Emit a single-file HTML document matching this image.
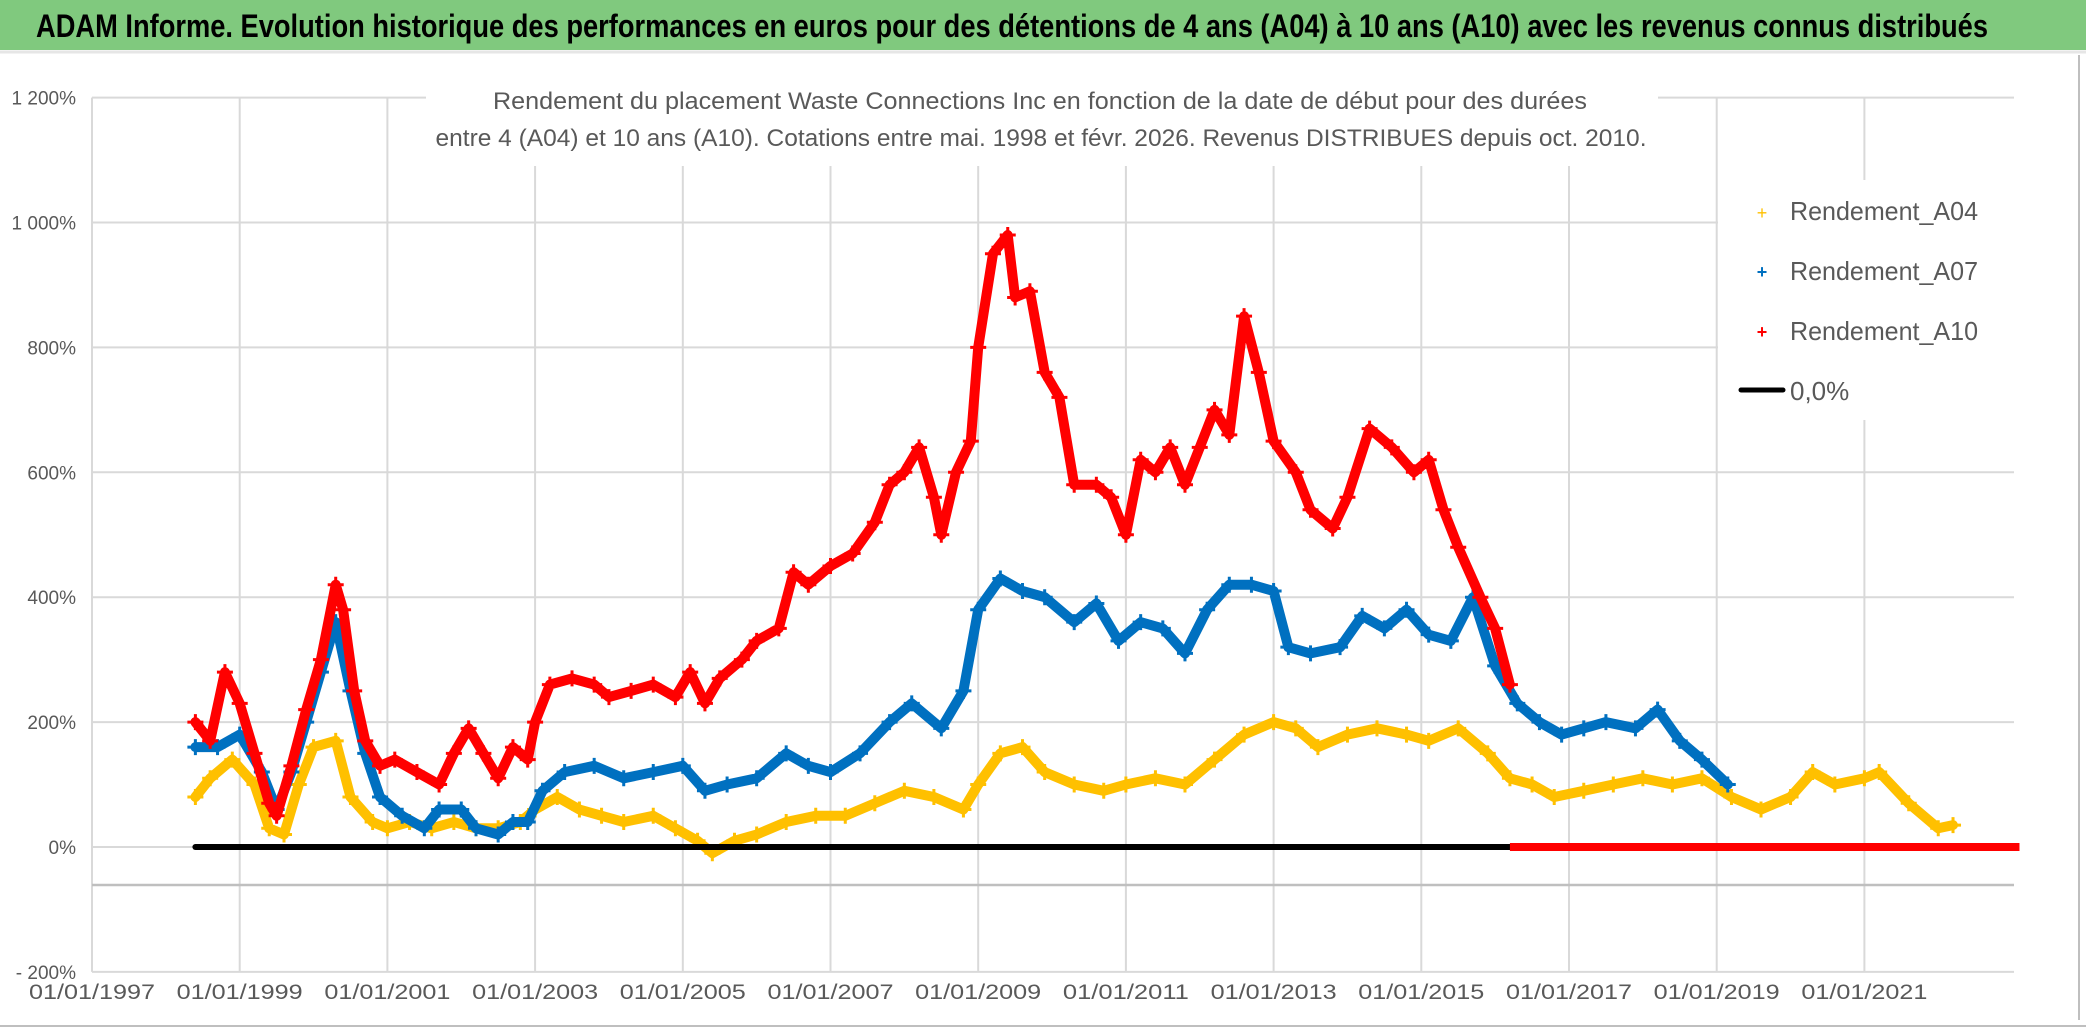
<!DOCTYPE html>
<html><head><meta charset="utf-8"><style>
html,body{margin:0;padding:0;background:#fff;}
svg{display:block;font-family:"Liberation Sans",sans-serif;}
</style></head><body>
<svg id="chart" width="2086" height="1031" viewBox="0 0 2086 1031" xmlns="http://www.w3.org/2000/svg">
<rect x="0" y="0" width="2086" height="1031" fill="#ffffff"/>
<rect x="0" y="0" width="2086" height="50" fill="#80c97e"/>
<line x1="0" y1="52" x2="2086" y2="52" stroke="#e6e6e6" stroke-width="3"/>
<text x="36" y="37" font-size="32" font-weight="bold" fill="#000" textLength="1952" lengthAdjust="spacingAndGlyphs">ADAM Informe. Evolution historique des performances en euros pour des détentions de 4 ans (A04) à 10 ans (A10) avec les revenus connus distribués</text>
<line x1="2079" y1="55" x2="2079" y2="1020" stroke="#bfbfbf" stroke-width="2"/>
<line x1="0" y1="1026" x2="2086" y2="1026" stroke="#bfbfbf" stroke-width="2"/>
<g id="grid"></g>
<g id="axes"></g>
<g id="series"></g>
<rect x="426" y="78" width="1232" height="88" fill="#fff"/>
<text x="1040" y="109" font-size="24" fill="#595959" text-anchor="middle" textLength="1094" lengthAdjust="spacingAndGlyphs">Rendement du placement Waste Connections Inc en fonction de la date de début pour des durées</text>
<text x="1041" y="146" font-size="24" fill="#595959" text-anchor="middle" textLength="1211" lengthAdjust="spacingAndGlyphs">entre 4 (A04) et 10 ans (A10). Cotations entre mai. 1998 et févr. 2026. Revenus DISTRIBUES depuis oct. 2010.</text>
<g>
<rect x="1718" y="180" width="300" height="240" fill="#fff"/>
<g><text x="1762" y="219" font-size="18" fill="#ffc000" text-anchor="middle">+</text><text x="1790" y="220" font-size="26" fill="#595959" textLength="188" lengthAdjust="spacingAndGlyphs">Rendement_A04</text></g>
<g><text x="1762" y="278" font-size="18" fill="#0070c0" text-anchor="middle" font-weight="bold">+</text><text x="1790" y="280" font-size="26" fill="#595959" textLength="188" lengthAdjust="spacingAndGlyphs">Rendement_A07</text></g>
<g><text x="1762" y="338" font-size="18" fill="#ff0000" text-anchor="middle" font-weight="bold">+</text><text x="1790" y="340" font-size="26" fill="#595959" textLength="188" lengthAdjust="spacingAndGlyphs">Rendement_A10</text></g>
<g><line x1="1741" y1="390" x2="1783" y2="390" stroke="#000" stroke-width="5" stroke-linecap="round"/><text x="1790" y="400" font-size="26" fill="#595959">0,0%</text></g>
</g>
</svg>
<script>
const yTicks=[1200,1000,800,600,400,200,0,-200];
const yTickLabels=["1 200%","1 000%","800%","600%","400%","200%","0%","- 200%"];
const xTicks=[1997,1999,2001,2003,2005,2007,2009,2011,2013,2015,2017,2019,2021];
const xTickLabels=["01/01/1997","01/01/1999","01/01/2001","01/01/2003","01/01/2005","01/01/2007","01/01/2009","01/01/2011","01/01/2013","01/01/2015","01/01/2017","01/01/2019","01/01/2021"];
const a10Dates=[1998.4,1998.6,1998.8,1999.0,1999.2,1999.4,1999.5,1999.7,1999.9,2000.1,2000.3,2000.4,2000.55,2000.7,2000.9,2001.1,2001.4,2001.7,2001.9,2002.1,2002.3,2002.5,2002.7,2002.9,2003.0,2003.2,2003.5,2003.8,2004.0,2004.3,2004.6,2004.9,2005.1,2005.3,2005.5,2005.8,2006.0,2006.3,2006.5,2006.7,2007.0,2007.3,2007.6,2007.8,2008.0,2008.2,2008.4,2008.5,2008.7,2008.9,2009.0,2009.2,2009.4,2009.5,2009.7,2009.9,2010.1,2010.3,2010.6,2010.8,2011.0,2011.2,2011.4,2011.6,2011.8,2012.0,2012.2,2012.4,2012.6,2012.8,2013.0,2013.3,2013.5,2013.8,2014.0,2014.3,2014.6,2014.9,2015.1,2015.3,2015.5,2015.8,2016.0,2016.2];
const a10Values=[200,170,280,230,150,70,50,130,220,300,420,380,250,170,130,140,120,100,150,190,150,110,160,140,200,260,270,260,240,250,260,240,280,230,270,300,330,350,440,420,450,470,520,580,600,640,560,500,600,650,800,950,980,880,890,760,720,580,580,560,500,620,600,640,580,640,700,660,850,760,650,600,540,510,560,670,640,600,620,540,480,400,350,260];
const a07Dates=[1998.4,1998.7,1999.0,1999.3,1999.5,1999.7,1999.9,2000.1,2000.3,2000.5,2000.7,2000.9,2001.2,2001.5,2001.7,2002.0,2002.2,2002.5,2002.7,2002.9,2003.1,2003.4,2003.8,2004.2,2004.6,2005.0,2005.3,2005.6,2006.0,2006.4,2006.7,2007.0,2007.4,2007.8,2008.1,2008.5,2008.8,2009.0,2009.3,2009.6,2009.9,2010.3,2010.6,2010.9,2011.2,2011.5,2011.8,2012.1,2012.4,2012.7,2013.0,2013.2,2013.5,2013.9,2014.2,2014.5,2014.8,2015.1,2015.4,2015.7,2016.0,2016.3,2016.6,2016.9,2017.2,2017.5,2017.9,2018.2,2018.5,2018.8,2019.15];
const a07Values=[160,160,180,120,60,120,200,280,360,250,150,80,50,30,60,60,30,20,40,40,90,120,130,110,120,130,90,100,110,150,130,120,150,200,230,190,250,380,430,410,400,360,390,330,360,350,310,380,420,420,410,320,310,320,370,350,380,340,330,400,290,230,200,180,190,200,190,220,170,140,100];
const a04Dates=[1998.4,1998.6,1998.9,1999.2,1999.4,1999.6,1999.8,2000.0,2000.3,2000.5,2000.8,2001.0,2001.3,2001.6,2001.9,2002.2,2002.5,2002.8,2003.0,2003.3,2003.6,2003.9,2004.2,2004.6,2004.9,2005.2,2005.4,2005.7,2006.0,2006.4,2006.8,2007.2,2007.6,2008.0,2008.4,2008.8,2009.0,2009.3,2009.6,2009.9,2010.3,2010.7,2011.0,2011.4,2011.8,2012.2,2012.6,2013.0,2013.3,2013.6,2014.0,2014.4,2014.8,2015.1,2015.5,2015.9,2016.2,2016.5,2016.8,2017.2,2017.6,2018.0,2018.4,2018.8,2019.2,2019.6,2020.0,2020.3,2020.6,2021.0,2021.2,2021.6,2022.0,2022.2];
const a04Values=[80,110,140,100,30,20,100,160,170,80,40,30,40,30,40,30,30,40,60,80,60,50,40,50,30,10,-10,10,20,40,50,50,70,90,80,60,100,150,160,120,100,90,100,110,100,140,180,200,190,160,180,190,180,170,190,150,110,100,80,90,100,110,100,110,80,60,80,120,100,110,120,70,30,35];
const zeroLineStart=1998.4, zeroLineEnd=2016.2;
const a10ZeroStart=2016.2, a10ZeroEnd=2023.1;

const NS="http://www.w3.org/2000/svg";
const X=t=>92+(t-1997)*73.85;
const Y=v=>847-v*0.6245;
const plotRight=2014;
function mk(tag,attrs,parent){const e=document.createElementNS(NS,tag);for(const k in attrs)e.setAttribute(k,attrs[k]);parent.appendChild(e);return e;}
const grid=document.getElementById('grid'),axes=document.getElementById('axes'),series=document.getElementById('series');
yTicks.forEach((v,i)=>{
  const l=mk('line',{x1:92,y1:Y(v),x2:plotRight,y2:Y(v),stroke:'#d9d9d9','stroke-width':2},grid);
  
  
  const t=mk('text',{x:76,y:Y(v)+7,'font-size':19,fill:'#595959','text-anchor':'end'},axes);
  t.textContent=yTickLabels[i];
  
  
});
xTicks.forEach((yr,i)=>{
  const l=mk('line',{x1:X(yr),y1:Y(1200),x2:X(yr),y2:Y(-200),stroke:'#d9d9d9','stroke-width':2},grid);
  
  
  const t=mk('text',{x:X(yr),y:999,'font-size':21,fill:'#595959','text-anchor':'middle',textLength:126,lengthAdjust:'spacingAndGlyphs'},axes);
  t.textContent=xTickLabels[i];
  
  
});
const ax=mk('line',{x1:92,y1:885,x2:plotRight,y2:885,stroke:'#bfbfbf','stroke-width':2.5},axes);


function plus(g,x,y,c,s){mk('path',{d:`M${x-s} ${y}H${x+s}M${x} ${y-s}V${y+s}`,stroke:c,'stroke-width':3,fill:'none'},g);}
function drawSeries(dates,vals,color,name){
  const g=mk('g',{},series);
  
  
  const pts=dates.map((d,i)=>X(d).toFixed(1)+','+Y(vals[i]).toFixed(1)).join(' ');
  mk('polyline',{points:pts,fill:'none',stroke:color,'stroke-width':10,'stroke-linejoin':'round','stroke-linecap':'round'},g);
  dates.forEach((d,i)=>plus(g,X(d),Y(vals[i]),color,8));
}
drawSeries(a04Dates,a04Values,'#ffc000','series-a04');
drawSeries(a07Dates,a07Values,'#0070c0','series-a07');
drawSeries(a10Dates,a10Values,'#ff0000','series-a10');
const zl=mk('line',{x1:X(zeroLineStart),y1:Y(0),x2:X(zeroLineEnd),y2:Y(0),stroke:'#000','stroke-width':6,'stroke-linecap':'round'},series);


const rz=mk('line',{x1:X(a10ZeroStart),y1:Y(0),x2:X(a10ZeroEnd),y2:Y(0),stroke:'#ff0000','stroke-width':8},series);


</script>
</body></html>
